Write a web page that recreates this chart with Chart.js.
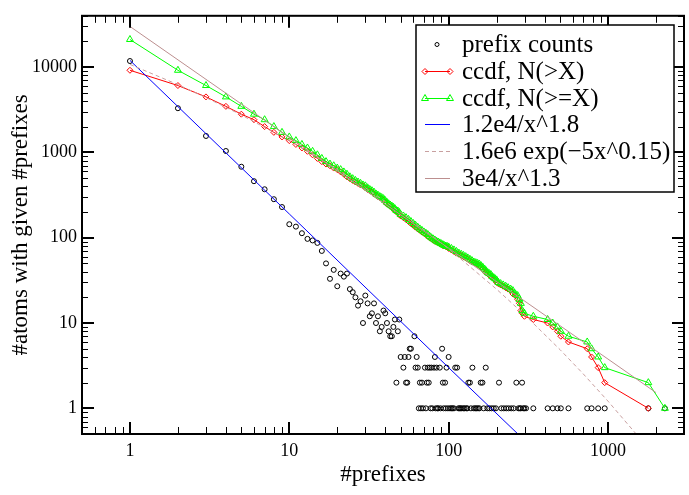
<!DOCTYPE html>
<html><head><meta charset="utf-8">
<script src="https://cdn.jsdelivr.net/npm/chart.js@4/dist/chart.umd.min.js"></script>
<style>html,body{margin:0;padding:0;background:#fff;}canvas{display:block;}</style>
</head><body>
<canvas id="c" width="689" height="495"></canvas>
<script>
// ---------- data ----------
const seriesLabels = ['prefix counts', 'ccdf, N(>X)', 'ccdf, N(>=X)', '1.2e4/x^1.8', '1.6e6 exp(\u22125x^0.15)', '3e4/x^1.3'];
const xTicks = [1, 10, 100, 1000];
const yTicks = [1, 10, 100, 1000, 10000];

const countX = [1,2,3,4,5,6,7,8,9,10,11,12,13,14,15,16,17,18,19,20,21,22,23,24,25,26,27,28,29,30,
  31,32,33,34,35,36,37,38,39,40,41,42,43,44,45,46,47,48,49,50,
  52,53,54,55,56,57,58,61,62,63,64,65,66,67,68,69,71,72,73,74,75,76,77,78,79,81,82,83,84,85,
  86,88,89,91,92,93,95,96,97,99,100,102,104,106,108,110,113,115,117,119,
  121,124,126,129,131,133,136,138,141,144,147,150,153,156,159,163,166,171,175,180,
  186,192,198,207,214,222,230,238,247,256,266,274,280,284,289,294,299,306,340,418,
  450,482,506,565,741,789,868,954,1792,2276];
const countY = [11800,3300,1560,1040,680,460,370,283,229,144,135,113,97,93,87,70,50,33,42,27,
  38,35,38,25,23,20,16,18,10,21,17,12,13,17,10,12,8,9,14,13,10,8,7,7,9,11,2,8,11,4,
  3,4,2,2,4,5,5,7,3,4,3,1,2,1,2,1,3,1,2,3,2,3,1,3,1,3,4,1,3,1,
  1,3,1,5,2,1,2,1,3,1,4,1,1,1,1,3,3,1,1,1,
  1,1,1,1,1,2,2,1,3,1,1,1,1,1,2,2,1,3,1,1,
  1,1,1,2,1,1,1,1,1,1,2,1,1,1,2,1,1,1,1,1,
  1,1,1,1,1,1,1,1,1,1];

const ccdfX = [1,2,3,4,5,6,7,8,9,10,11,12,13,14,15,16,17,18,19,20,21,22,23,24,25,26,27,28,29,30,
  31,32,33,34,35,36,37,38,39,40,41,42,43,44,45,46,47,48,49,50,
  52,54,56,58,60,62,64,66,68,70,72,74,76,78,80,82,84,86,88,90,92,94,96,98,100,
  104,108,112,116,120,124,128,132,136,140,144,148,152,156,160,164,168,172,176,180,184,188,192,196,200,
  205,212,220,228,236,245,253,262,271,278,284,290,
  299,340,418,450,482,506,565,741,789,868,954,1792,2276];
const ccdfGE = [21100,9190,6090,4480,3470,2810,2420,2010,1720,1520,
  1376,1241,1128,1031,938,851,781,731,698,656,
  629,591,556,518,493,470,450,434,416,406,
  385,368,356,343,326,316,304,296,287,273,
  260,250,242,235,228,219,208,206,198,187,
  180,172,164,155,147,140,133,127,122,117,113,109,104,100,97,94,91,89,87,85,83,81,80,79,78,
  75,72,69,66,64,62,60,58,56,54,52,51,50,49,47,45,43,41,39,38,37,35,34,33,32,
  30,29,28,27,26,25,24,22,21,19,17,14,
  13,12,11,10,9,8,7,6,5,4,3,2,1];
const ccdfGT = [9190,6090,4480,3470,2810,2420,2010,1720,1520,1376,
  1241,1128,1031,938,851,781,731,698,656,629,
  591,556,518,493,470,450,434,416,406,385,
  368,356,343,326,316,304,296,287,273,260,
  250,242,235,228,219,208,206,198,187,180,
  172,164,155,147,140,133,127,122,117,113,109,104,100,97,94,91,89,87,85,83,81,80,79,78,75,
  72,69,66,64,62,60,58,56,54,52,51,50,49,47,45,43,41,39,38,37,35,34,33,32,30,
  29,28,27,26,25,24,22,21,19,17,14,13,
  12,11,10,9,8,7,6,5,4,3,2,1,0];

const fit18X = [1, 10, 100, 300];
const fit18Y = [12000, 190, 3.0, 0.42];
const fitExpX = [1, 2, 3, 5, 10, 20, 30, 50, 100, 200, 300, 500, 700, 1000, 1500, 1700];
const fitExpY = [10780, 6234, 4401, 2752, 1371, 632, 386.5, 199.1, 74.4, 24.9, 12.47, 4.88, 2.53, 1.214, 0.502, 0.377];
const fit13X = [1, 10, 100, 1000, 2000];
const fit13Y = [30000, 1504, 75.4, 3.78, 1.53];

// ---------- drawing ----------
const FONT = "'Liberation Serif', 'Times New Roman', serif";
Chart.defaults.font.family = FONT;
Chart.defaults.color = '#000';

const pts = (xs, ys) => xs.map((x, i) => ({x: x, y: ys[i]}));

function mark(ctx, style, x, y, r) {
  ctx.beginPath();
  if (style === 'circle') ctx.arc(x, y, r, 0, Math.PI * 2);
  else if (style === 'rectRot') { ctx.moveTo(x, y - r); ctx.lineTo(x + r, y); ctx.lineTo(x, y + r); ctx.lineTo(x - r, y); ctx.closePath(); }
  else if (style === 'triangle') { ctx.moveTo(x, y - r); ctx.lineTo(x + 0.866 * r, y + 0.5 * r); ctx.lineTo(x - 0.866 * r, y + 0.5 * r); ctx.closePath(); }
  ctx.stroke();
}

const framePlugin = {
  id: 'frame',
  afterDatasetsDraw(chart) {
    const {ctx, chartArea: a, scales: {x, y}} = chart;
    ctx.save();
    ctx.strokeStyle = '#000';
    const minor = new Path2D(), major = new Path2D();
    for (let e = -1; e <= 4; e++) {
      for (let m = 1; m <= 9; m++) {
        const v = m * Math.pow(10, e);
        const path = m === 1 ? major : minor;
        if (v >= x.min && v <= x.max) {
          const p = m === 1 ? Math.round(x.getPixelForValue(v)) : Math.round(x.getPixelForValue(v)) + 0.5;
          const L = m === 1 ? 12 : 7;
          path.moveTo(p, a.bottom); path.lineTo(p, a.bottom - L);
          path.moveTo(p, a.top); path.lineTo(p, a.top + L);
        }
        if (v >= y.min && v <= y.max) {
          const p = m === 1 ? Math.round(y.getPixelForValue(v)) : Math.round(y.getPixelForValue(v)) + 0.5;
          const L = m === 1 ? 12 : 6;
          path.moveTo(a.left, p); path.lineTo(a.left + L, p);
          path.moveTo(a.right, p); path.lineTo(a.right - L, p);
        }
      }
    }
    ctx.lineWidth = 1; ctx.stroke(minor);
    ctx.lineWidth = 2; ctx.stroke(major);
    ctx.lineWidth = 2;
    ctx.strokeRect(a.left, a.top, a.right - a.left, a.bottom - a.top);
    ctx.restore();
  }
};

const legendPlugin = {
  id: 'boxLegend',
  afterDraw(chart) {
    const ctx = chart.ctx;
    const bx = 416, by = 25, bw = 258, bh = 167;
    ctx.save();
    ctx.fillStyle = '#fff'; ctx.fillRect(bx, by, bw, bh);
    ctx.lineWidth = 1.5; ctx.strokeStyle = '#000'; ctx.strokeRect(bx, by, bw, bh);
    ctx.font = '25px ' + FONT; ctx.textBaseline = 'alphabetic';
    chart.data.datasets.forEach((d, i) => {
      const cy = Math.round(44 + i * 26.8) + 0.5;
      const x0 = 425, x1 = 450;
      ctx.lineWidth = 1;
      ctx.strokeStyle = d.borderColor;
      if (d.showLine) {
        ctx.setLineDash(d.borderDash || []);
        ctx.beginPath(); ctx.moveTo(x0, cy); ctx.lineTo(x1, cy); ctx.stroke();
        ctx.setLineDash([]);
      }
      if (d.legendMarker) {
        ctx.strokeStyle = d.pointBorderColor || d.borderColor;
        if (d.showLine) { mark(ctx, d.pointStyle, x0, cy, d.legendMarker); mark(ctx, d.pointStyle, x1, cy, d.legendMarker); }
        else mark(ctx, d.pointStyle, 437, cy, d.legendMarker);
      }
      ctx.fillStyle = '#000';
      ctx.fillText(d.label, 462, cy + 7);
    });
    ctx.restore();
  }
};

const redData = pts(ccdfX, ccdfGT);

new Chart(document.getElementById('c'), {
  type: 'scatter',
  data: {
    datasets: [
      { label: seriesLabels[0], data: pts(countX, countY), showLine: false,
        pointStyle: 'circle', pointRadius: 2.5, borderColor: '#000', pointBorderColor: '#000',
        pointBackgroundColor: 'rgba(0,0,0,0)', pointBorderWidth: 1, order: 5, legendMarker: 2 },
      { label: seriesLabels[1], data: redData, showLine: true, borderColor: '#ff0000', borderWidth: 1,
        pointStyle: 'rectRot', pointRadius: c => (c.raw && c.raw.y > 0 ? 3 : 0), pointBorderColor: '#ff0000',
        pointBackgroundColor: 'rgba(0,0,0,0)', pointBorderWidth: 1, order: 4, legendMarker: 3 },
      { label: seriesLabels[2], data: pts(ccdfX, ccdfGE), showLine: true, borderColor: '#00ff00', borderWidth: 1,
        pointStyle: 'triangle', pointRadius: 4, pointBorderColor: '#00ff00',
        pointBackgroundColor: 'rgba(0,0,0,0)', pointBorderWidth: 1, order: 3, legendMarker: 4 },
      { label: seriesLabels[3], data: pts(fit18X, fit18Y), showLine: true, borderColor: '#0000ff', borderWidth: 1,
        pointRadius: 0, order: 2 },
      { label: seriesLabels[4], data: pts(fitExpX, fitExpY), showLine: true, borderColor: '#c8a0a0', borderWidth: 1,
        borderDash: [4, 3], pointRadius: 0, order: 1 },
      { label: seriesLabels[5], data: pts(fit13X, fit13Y), showLine: true, borderColor: '#bc8f8f', borderWidth: 1,
        pointRadius: 0, order: 0 }
    ]
  },
  options: {
    responsive: false, animation: false, devicePixelRatio: 1, events: [],
    layout: { padding: { top: 8, right: 3, left: 0, bottom: 0 } },
    plugins: { legend: { display: false }, tooltip: { enabled: false } },
    scales: {
      x: {
        type: 'logarithmic', min: 0.5, max: 3000,
        grid: { display: false, drawTicks: false }, border: { display: false },
        afterBuildTicks: s => { s.ticks = xTicks.map(v => ({value: v})); },
        afterFit: s => { s.height = 61; },
        ticks: { callback: v => String(v), font: { size: 18 }, padding: 6, maxRotation: 0, autoSkip: false },
        title: { display: true, text: '#prefixes', font: { size: 23 }, padding: { top: 0, bottom: 6 } }
      },
      y: {
        type: 'logarithmic', min: 0.5, max: 40000,
        grid: { display: false, drawTicks: false }, border: { display: false },
        afterBuildTicks: s => { s.ticks = yTicks.map(v => ({value: v})); },
        afterFit: s => { s.width = 82; },
        ticks: { callback: v => String(v), font: { size: 18 }, padding: 5, autoSkip: false },
        title: { display: true, text: '#atoms with given #prefixes', font: { size: 23 }, padding: { top: 7, bottom: 0 } }
      }
    }
  },
  plugins: [framePlugin, legendPlugin]
});
</script>
</body></html>
